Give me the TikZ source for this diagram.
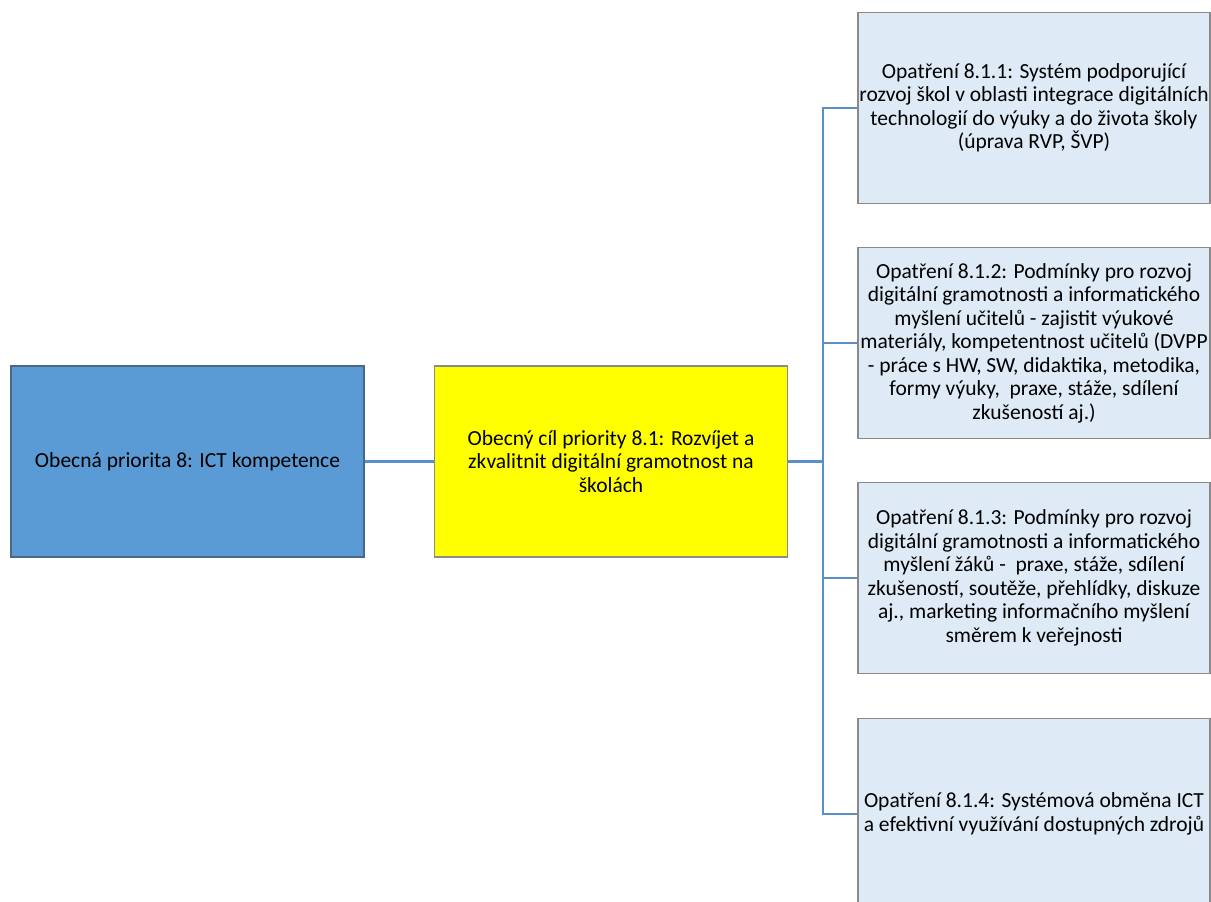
\documentclass[tikz,border=0pt]{standalone}
\usepackage{fontspec}
\setmainfont{Carlito}
\usepackage{xcolor}
\usepackage{tikz}
\usetikzlibrary{positioning}

\definecolor{prioblue}{HTML}{5B9BD5}
\definecolor{prioedge}{HTML}{4A6786}
\definecolor{cilyellow}{HTML}{FFFF00}
\definecolor{optblue}{HTML}{DEEAF6}
\definecolor{boxgray}{HTML}{8A8A8A}
\definecolor{linkblue}{HTML}{5B8FC9}

\tikzset{
    box/.style={draw=boxgray, line width=1.3pt, minimum width=353pt, minimum height=191pt,
        inner sep=0pt, align=center, font=\fontsize{21.5}{23.5}\selectfont},
    priobox/.style={box, fill=prioblue, draw=prioedge},
    cilbox/.style={box, fill=cilyellow},
    optbox/.style={box, fill=optblue, minimum width=352pt},
    link/.style={draw=linkblue, line width=2.8pt}
}

\begin{document}
\begin{tikzpicture}[x=1pt, y=-1pt]
        \useasboundingbox (0,0) rectangle (1211,902);
        \clip (0,0) rectangle (1211,902);

        \node[priobox] (prio) at (187.5,461.5) {Obecná priorita 8: ICT kompetence};
        \node[cilbox] (cil) at (611,461.5) {Obecný cíl priority 8.1: Rozvíjet a\\zkvalitnit digitální gramotnost na\\školách};

        \node[optbox] (opt1) at (1034,108) {Opatření 8.1.1: Systém podporující\\rozvoj škol v oblasti integrace digitálních\\technologií do výuky a do života školy\\(úprava RVP, ŠVP)};
        \node[optbox] (opt2) at (1034,343) {Opatření 8.1.2: Podmínky pro rozvoj\\digitální gramotnosti a informatického\\myšlení učitelů - zajistit výukové\\materiály, kompetentnost učitelů (DVPP\\- práce s HW, SW, didaktika, metodika,\\formy výuky,\ \ praxe, stáže, sdílení\\zkušeností aj.)};
        \node[optbox] (opt3) at (1034,578) {Opatření 8.1.3: Podmínky pro rozvoj\\digitální gramotnosti a informatického\\myšlení žáků -\ \ praxe, stáže, sdílení\\zkušeností, soutěže, přehlídky, diskuze\\aj., marketing informačního myšlení\\směrem k veřejnosti};
        \node[optbox] (opt4) at (1034,814) {Opatření 8.1.4: Systémová obměna ICT\\a efektivní využívání dostupných zdrojů};

        \coordinate (rozcesti) at (823,461.5);

        % prio -> cil
        \draw[link] (prio) -- (cil);

        % cil -> opatreni
        \draw[link] (cil) -- (rozcesti);
        \draw[link] (rozcesti) |- (opt1.west);
        \draw[link] (rozcesti) |- (opt2.west);
        \draw[link] (rozcesti) |- (opt3.west);
        \draw[link] (rozcesti) |- (opt4.west);
    \end{tikzpicture}
\end{document}
